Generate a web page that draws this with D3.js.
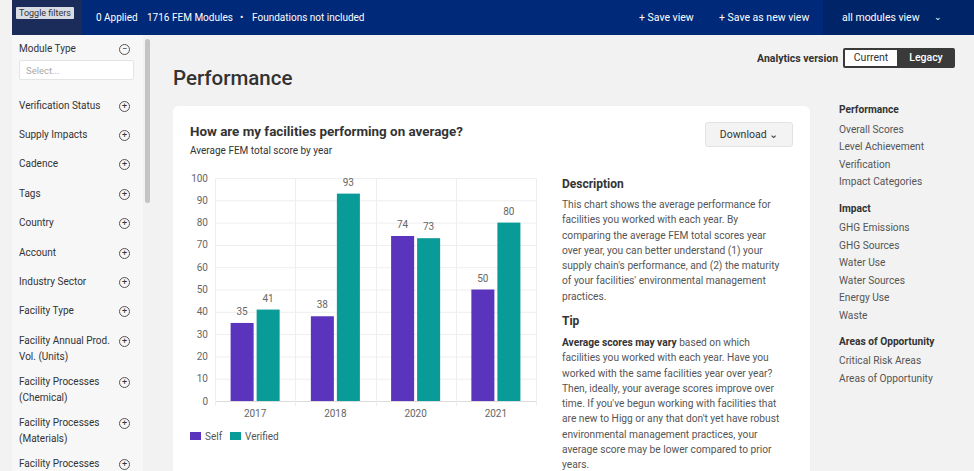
<!DOCTYPE html>
<html>
  <head>
    <meta charset="utf-8">
    <title>Performance</title>
    <script src="https://d3js.org/d3.v7.min.js"></script>
    <style>
      body { margin: 0; width: 974px; height: 471px; overflow: hidden; background: #f2f2f2;
             font-family: Roboto, "Noto Sans", sans-serif; color: #444; position: relative; }
      .abs { position: absolute; white-space: nowrap; }
      #topbar { left: 12px; top: 0; width: 962px; height: 35px; background: #00297a; }
      #filterbox { left: 12px; top: 0; width: 70px; height: 35px; background: #1c2c5a; }
      #tooltip { left: 16px; top: 7px; padding: 1px 3px; background: #d9dce3; color: #333; font-size: 9px; border-radius: 1px; }
      .topText { color: #fff; font-size: 10px; top: 12px; }
      .topRight { color: #fff; font-size: 10.5px; top: 11px; }
      #viewbox { left: 823px; top: 0; width: 151px; height: 35px; background: #002468; }
      #sidebar { left: 12px; top: 35px; width: 131px; height: 436px; background: #f7f7f7; }
      #scroll { left: 145px; top: 39px; width: 5px; height: 164px; background: #c4c4c4; border-radius: 3px; }
      .filter { left: 19px; font-size: 10px; color: #333; line-height: 16px; }
      .icon { left: 119px; width: 9px; height: 9px; border: 1px solid #555; border-radius: 50%;
              font-size: 9px; line-height: 9px; text-align: center; color: #333; }
      #select { left: 19px; top: 60px; height: 20px; background: #fff; border: 1px solid #e4e4e4;
                border-radius: 2px; font-size: 9.5px; color: #aaa; line-height: 20px; padding-left: 6px; box-sizing: border-box; width: 115px; }
      #title { left: 173px; top: 66px; font-size: 20.5px; font-weight: 500; color: #333; }
      #card { left: 173px; top: 106px; width: 637px; height: 380px; background: #fff; border-radius: 6px; }
      .nav { left: 839px; font-size: 10.2px; color: #555; }
      .navHead { left: 839px; font-size: 10.2px; color: #333; font-weight: 700; }
      .para { left: 562px; font-size: 10.2px; line-height: 15.3px; color: #555; }
      .head { left: 562px; font-size: 12px; font-weight: 700; color: #333; }
      #chart { left: 180px; top: 165px; }
    </style>
  </head>

  <body>
    <!-- header bar -->
    <div class="abs" id="topbar"></div>
    <div class="abs" id="filterbox"></div>
    <div class="abs" id="viewbox"></div>
    <div class="abs" style="left:20px;top:9px;font-size:11px;color:#aab">Filters</div>
    <div class="abs" id="tooltip">Toggle filters</div>
    <div class="abs topText" style="left:96px">0 Applied</div>
    <div class="abs topText" style="left:147px">1716 FEM Modules</div>
    <div class="abs topText" style="left:240px">•</div>
    <div class="abs topText" style="left:252px">Foundations not included</div>
    <div class="abs topRight" style="left:639px">+ Save view</div>
    <div class="abs topRight" style="left:719px">+ Save as new view</div>
    <div class="abs topRight" style="left:842px">all modules view</div>
    <div class="abs topRight" style="left:934px;font-size:9px;top:12px">&#8964;</div>

    <!-- filter sidebar -->
    <div class="abs" id="sidebar"></div>
    <div class="abs" id="scroll"></div>
    <div class="abs" id="select">Select...</div>
    <div id="filters"></div>

    <!-- main -->
    <div class="abs" id="title">Performance</div>
    <div class="abs" style="left:757px;top:52px;font-size:10.5px;font-weight:700;color:#333">Analytics version</div>
    <div class="abs" style="left:843px;top:48px;width:112px;height:20px;background:#3a3a3a;border-radius:2px"></div>
    <div class="abs" style="left:845px;top:50px;width:52px;height:16px;background:#fff;font-size:10.5px;line-height:16px;text-align:center;color:#333">Current</div>
    <div class="abs" style="left:897px;top:50px;width:58px;height:16px;font-size:10.5px;line-height:16px;text-align:center;color:#fff;font-weight:500">Legacy</div>

    <div class="abs" id="card"></div>
    <div class="abs" style="left:190px;top:124px;font-size:13.4px;font-weight:700;color:#333">How are my facilities performing on average?</div>
    <div class="abs" style="left:190px;top:145px;font-size:10px;color:#333">Average FEM total score by year</div>
    <div class="abs" style="left:705px;top:122px;width:88px;height:25px;background:#f3f3f3;border:1px solid #e2e2e2;border-radius:3px;box-sizing:border-box;font-size:10.5px;line-height:23px;text-align:center;color:#333">Download &#8964;</div>

    <svg class="abs" id="chart" width="370" height="290"></svg>

    <div class="abs head" style="top:177px">Description</div>
    <div class="abs para" style="top:197px">This chart shows the average performance for<br>facilities you worked with each year. By<br>comparing the average FEM total scores year<br>over year, you can better understand (1) your<br>supply chain's performance, and (2) the maturity<br>of your facilities' environmental management<br>practices.</div>
    <div class="abs head" style="top:314px">Tip</div>
    <div class="abs para" style="top:335px"><b style="color:#333">Average scores may vary</b> based on which<br>facilities you worked with each year. Have you<br>worked with the same facilities year over year?<br>Then, ideally, your average scores improve over<br>time. If you've begun working with facilities that<br>are new to Higg or any that don't yet have robust<br>environmental management practices, your<br>average score may be lower compared to prior<br>years.</div>

    <div id="nav"></div>

    <script>
      // chart data
      var years = ["2017", "2018", "2020", "2021"];
      var seriesNames = ["Self", "Verified"];
      var selfScores = [35, 38, 74, 50];
      var verifiedScores = [41, 93, 73, 80];
      var yTicks = [0, 10, 20, 30, 40, 50, 60, 70, 80, 90, 100];
      var colors = ["#5b34bd", "#099b97"];

      // page lists
      var filterItems = [
        ["Module Type", 41, "minus"], ["Verification Status", 98], ["Supply Impacts", 127],
        ["Cadence", 156], ["Tags", 186], ["Country", 215], ["Account", 245],
        ["Industry Sector", 274], ["Facility Type", 303],
        ["Facility Annual Prod.<br>Vol. (Units)", 333], ["Facility Processes<br>(Chemical)", 374],
        ["Facility Processes<br>(Materials)", 415], ["Facility Processes<br>(Pkg)", 456]
      ];
      var navItems = [
        ["Performance", 104, true], ["Overall Scores", 124], ["Level Achievement", 141],
        ["Verification", 159], ["Impact Categories", 176],
        ["Impact", 203, true], ["GHG Emissions", 222], ["GHG Sources", 240], ["Water Use", 257],
        ["Water Sources", 275], ["Energy Use", 292], ["Waste", 310],
        ["Areas of Opportunity", 336, true], ["Critical Risk Areas", 355], ["Areas of Opportunity", 373]
      ];

      var filters = d3.select("#filters");
      filterItems.forEach(function(d) {
        filters.append("div")
          .attr("class", "abs filter")
          .style("top", d[1] + "px")
          .html(d[0]);
        filters.append("div")
          .attr("class", "abs icon")
          .style("top", (d[1] + 3) + "px")
          .text(d[2] == "minus" ? "−" : "+");
      });

      var nav = d3.select("#nav");
      navItems.forEach(function(d) {
        nav.append("div")
          .attr("class", d[2] ? "abs navHead" : "abs nav")
          .style("top", d[1] + "px")
          .text(d[0]);
      });

      // bar chart
      var svg = d3.select("#chart");
      var x0 = d3.scaleBand().domain(years).range([35, 356]);
      var x1 = d3.scaleBand().domain(seriesNames).range([0, x0.bandwidth()])
        .paddingInner(0.115).paddingOuter(0.6);
      var y = d3.scaleLinear().domain([0, 100]).range([236, 13]);

      var grid = svg.append("g");
      grid.selectAll(".h")
          .data(yTicks)
        .enter().append("line")
          .attr("x1", 35).attr("x2", 356)
          .attr("y1", function(d) { return y(d) + 0.5; })
          .attr("y2", function(d) { return y(d) + 0.5; })
          .attr("stroke", function(d) { return d == 0 ? "#dcdcdc" : "#eeeeee"; });
      var edges = years.map(function(d) { return x0(d); }).concat([356]);
      grid.selectAll(".v")
          .data(edges)
        .enter().append("line")
          .attr("x1", function(d) { return Math.round(d) + 0.5; })
          .attr("x2", function(d) { return Math.round(d) + 0.5; })
          .attr("y1", y(100)).attr("y2", y(0) + 5)
          .attr("stroke", "#eeeeee");

      svg.append("g")
        .selectAll("text")
          .data(yTicks)
        .enter().append("text")
          .attr("x", 28)
          .attr("y", function(d) { return y(d) + 3.5; })
          .attr("text-anchor", "end")
          .attr("font-size", "10px")
          .attr("fill", "#666")
          .text(function(d) { return d; });

      svg.append("g")
        .selectAll("text")
          .data(years)
        .enter().append("text")
          .attr("x", function(d) { return x0(d) + x0.bandwidth() / 2; })
          .attr("y", y(0) + 16)
          .attr("text-anchor", "middle")
          .attr("font-size", "10px")
          .attr("fill", "#666")
          .text(function(d) { return d; });

      var bars = [];
      years.forEach(function(yr, i) {
        bars.push({ year: yr, s: 0, value: selfScores[i] });
        bars.push({ year: yr, s: 1, value: verifiedScores[i] });
      });

      var g = svg.append("g");
      g.selectAll("rect")
          .data(bars)
        .enter().append("rect")
          .attr("x", function(d) { return x0(d.year) + x1(seriesNames[d.s]); })
          .attr("y", function(d) { return y(d.value); })
          .attr("width", x1.bandwidth())
          .attr("height", function(d) { return y(0) - y(d.value); })
          .attr("fill", function(d) { return colors[d.s]; });
      g.selectAll("text")
          .data(bars)
        .enter().append("text")
          .attr("x", function(d) { return x0(d.year) + x1(seriesNames[d.s]) + x1.bandwidth() / 2; })
          .attr("y", function(d) { return y(d.value) - 8; })
          .attr("text-anchor", "middle")
          .attr("font-size", "10px")
          .attr("fill", "#666")
          .text(function(d) { return d.value; });

      // legend
      var legend = svg.append("g")
        .selectAll("g")
          .data(seriesNames)
        .enter().append("g")
          .attr("transform", function(d, i) { return "translate(" + (10 + i * 40) + ",267)"; });
      legend.append("rect")
        .attr("width", 11).attr("height", 8)
        .attr("fill", function(d, i) { return colors[i]; });
      legend.append("text")
        .attr("x", 15).attr("y", 8)
        .attr("font-size", "10px")
        .attr("fill", "#555")
        .text(function(d) { return d; });
    </script>
  </body>
</html>
